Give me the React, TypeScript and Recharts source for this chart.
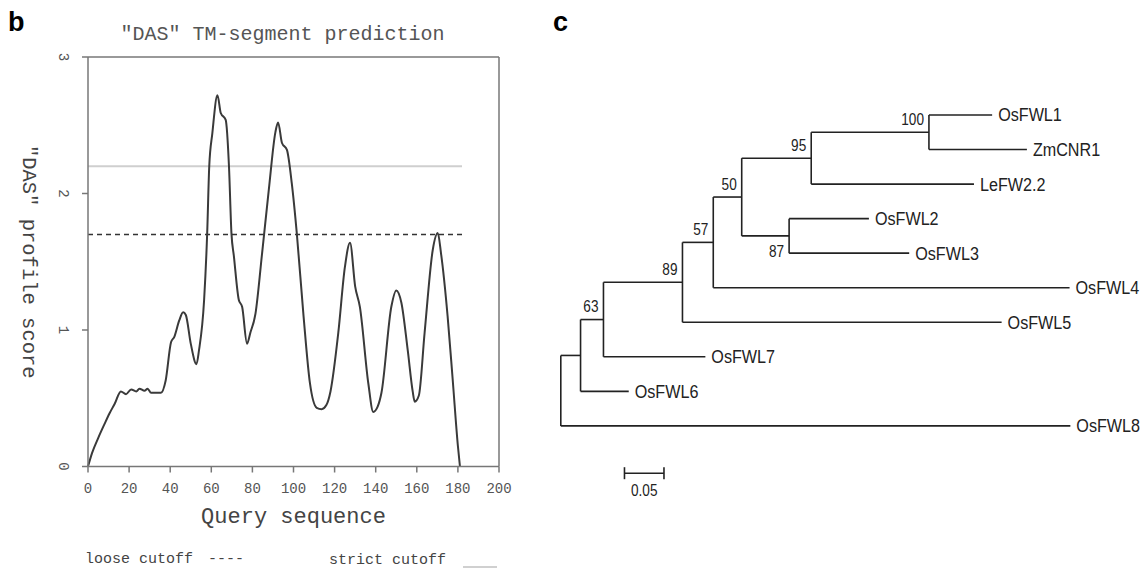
import { ComposedChart, Line, LineChart, ReferenceLine, Scatter, XAxis, YAxis } from "recharts"

// panel b: DAS profile
const dasPositions = [
  0, 2, 5, 8, 10.5, 13, 16, 18.5, 21, 23.5, 25, 27.5, 29, 30.7, 35.5, 37.8, 40.4, 42, 44.4, 46.3,
  47.6, 50, 52.8, 54, 56.5, 58, 59, 60.5, 63, 64.6, 67, 68.6, 69.8, 71, 73.4, 75, 77.4, 79, 81.5,
  84.7, 88, 91.2, 92.5, 94.4, 96.8, 99.2, 101.6, 104.9, 108, 111.3, 113.7, 116, 118, 121.8, 125,
  127.5, 130, 132.3, 136.4, 138.8, 141, 142.8, 147.6, 150, 152.5, 155.6, 158, 159, 161, 163.8,
  167.8, 170.2, 171.8, 175, 177.5, 180, 181,
]
const dasScores = [
  0, 0.1, 0.21, 0.31, 0.39, 0.46, 0.55, 0.53, 0.565, 0.55, 0.57, 0.555, 0.57, 0.54, 0.54, 0.63,
  0.91, 0.95, 1.07, 1.13, 1.11, 0.9, 0.75, 0.85, 1.22, 1.71, 2.2, 2.44, 2.72, 2.59, 2.54, 2.2, 1.71,
  1.54, 1.22, 1.17, 0.9, 0.98, 1.12, 1.56, 2.03, 2.45, 2.52, 2.37, 2.32, 2.07, 1.71, 1.1, 0.61,
  0.43, 0.42, 0.45, 0.55, 0.98, 1.46, 1.64, 1.32, 1.17, 0.61, 0.4, 0.44, 0.54, 1.17, 1.29, 1.2,
  0.85, 0.55, 0.475, 0.52, 0.98, 1.59, 1.71, 1.56, 1.1, 0.63, 0.15, 0,
]
const xTicks = [0, 20, 40, 60, 80, 100, 120, 140, 160, 180, 200]
const yTicks = [0, 1, 2, 3]
const looseCutoff = 1.7
const strictCutoff = 2.2
const cutoffEnd = 182

// panel c: tree
const leafOrder = ["OsFWL1", "ZmCNR1", "LeFW2.2", "OsFWL2", "OsFWL3", "OsFWL4", "OsFWL5", "OsFWL7", "OsFWL6", "OsFWL8"]
const edgeParent = ["root", "root", "nA", "nA", "n63", "n63", "n89", "n89", "n57", "n57", "n50", "n50", "n95", "n95", "n100", "n100", "n87", "n87"]
const edgeChild = ["nA", "OsFWL8", "n63", "OsFWL6", "OsFWL7", "n89", "n57", "OsFWL5", "n50", "OsFWL4", "n95", "n87", "n100", "LeFW2.2", "OsFWL1", "ZmCNR1", "OsFWL2", "OsFWL3"]
const edgeLength = [0.025, 0.645, 0.029, 0.061, 0.129, 0.1, 0.039, 0.404, 0.036, 0.451, 0.088, 0.06, 0.149, 0.206, 0.08, 0.124, 0.101, 0.152]
const supportNode = ["n100", "n95", "n50", "n87", "n57", "n89", "n63"]
const supportValue = [100, 95, 50, 87, 57, 89, 63]
const scaleBarLength = 0.05

const MONO = "'Courier New', 'Liberation Mono', monospace"
const SANS = "'Liberation Sans', Arial, sans-serif"
const NARROW = 0.85 // the tree labels use a condensed face

const dasData = dasPositions.map((pos, i) => ({ pos, score: dasScores[i] }))

// lay the tree out: x = distance from root, y = leaf row
const childrenOf: Record<string, string[]> = {}
const lengthOf: Record<string, number> = {}
edgeParent.forEach((p, i) => {
  ;(childrenOf[p] ||= []).push(edgeChild[i])
  lengthOf[edgeChild[i]] = edgeLength[i]
})
const nodeX: Record<string, number> = { root: 0 }
const nodeY: Record<string, number> = {}
function place(n: string) {
  const kids = childrenOf[n] || []
  kids.forEach((k) => {
    nodeX[k] = nodeX[n] + lengthOf[k]
    place(k)
  })
  if (kids.length === 0) nodeY[n] = leafOrder.indexOf(n)
  else {
    const ys = kids.map((k) => nodeY[k])
    nodeY[n] = (Math.min(...ys) + Math.max(...ys)) / 2
  }
}
place("root")

const segments: { x: number; y: number }[][] = []
edgeChild.forEach((c, i) => {
  const p = edgeParent[i]
  segments.push([{ x: nodeX[p], y: nodeY[c] }, { x: nodeX[c], y: nodeY[c] }])
})
Object.keys(childrenOf).forEach((n) => {
  const ys = childrenOf[n].map((k) => nodeY[k])
  segments.push([{ x: nodeX[n], y: Math.min(...ys) }, { x: nodeX[n], y: Math.max(...ys) }])
})
const leafPoints = leafOrder.map((name) => ({ name, x: nodeX[name], y: nodeY[name] }))
const supportPoints = supportNode.map((n, i) => ({ node: n, value: supportValue[i], x: nodeX[n], y: nodeY[n] }))

const barStartX = 0.0806
const barY = 10.37
const scaleBarEnds = [{ x: barStartX, y: barY }, { x: barStartX + scaleBarLength, y: barY }]
const scaleBarMid = [{ x: barStartX + scaleBarLength / 2, y: barY, label: String(scaleBarLength) }]

const NarrowText = ({ x, y, anchor, size, children }: any) => (
  <text
    transform={`translate(${x}, ${y}) scale(${NARROW}, 1)`}
    textAnchor={anchor}
    dominantBaseline="central"
    fontFamily={SANS}
    fontSize={size}
    fill="#222"
  >
    {children}
  </text>
)

const XTick = ({ x, y, payload }: any) => (
  <text x={x} y={y + 14.5} textAnchor="middle" dominantBaseline="central" fontFamily={MONO} fontSize={14} fill="#555">
    {payload.value}
  </text>
)

const YTick = ({ x, y, payload }: any) => (
  <text
    x={x - 17}
    y={y}
    textAnchor="middle"
    dominantBaseline="central"
    transform={`rotate(90, ${x - 17}, ${y})`}
    fontFamily={MONO}
    fontSize={14}
    fill="#555"
  >
    {payload.value}
  </text>
)

function DasChart() {
  return (
    <LineChart width={520} height={571} data={dasData} margin={{ top: 57, right: 21, bottom: 74.5, left: 28 }}>
      <XAxis
        dataKey="pos"
        type="number"
        domain={[0, 200]}
        ticks={xTicks}
        tick={<XTick />}
        tickSize={6}
        height={30}
        axisLine={{ stroke: "#777", strokeWidth: 1.5 }}
        tickLine={{ stroke: "#777", strokeWidth: 1.5 }}
        label={{
          content: ({ viewBox }: any) => (
            <text x={viewBox.x + viewBox.width / 2} y={viewBox.y + 56} textAnchor="middle" fontFamily={MONO} fontSize={22} fill="#444">
              Query sequence
            </text>
          ),
        }}
      />
      <YAxis
        type="number"
        domain={[0, 3]}
        ticks={yTicks}
        tick={<YTick />}
        tickSize={6}
        width={60}
        axisLine={{ stroke: "#777", strokeWidth: 1.5 }}
        tickLine={{ stroke: "#777", strokeWidth: 1.5 }}
        label={{
          content: ({ viewBox }: any) => {
            const cx = viewBox.x
            const cy = viewBox.y + viewBox.height / 2
            return (
              <text
                x={cx}
                y={cy}
                textAnchor="middle"
                dominantBaseline="central"
                transform={`rotate(90, ${cx}, ${cy})`}
                fontFamily={MONO}
                fontSize={20.5}
                fill="#444"
              >
                "DAS" profile score
              </text>
            )
          },
        }}
      />
      <ReferenceLine y={3} stroke="#777" strokeWidth={1.5} />
      <ReferenceLine x={200} stroke="#777" strokeWidth={1.5} />
      <ReferenceLine
        segment={[{ x: 0, y: strictCutoff }, { x: cutoffEnd, y: strictCutoff }]}
        stroke="#cfcfcf"
        strokeWidth={2}
      />
      <ReferenceLine
        segment={[{ x: 0, y: looseCutoff }, { x: cutoffEnd, y: looseCutoff }]}
        stroke="#333"
        strokeWidth={1.5}
        strokeDasharray="5 4"
      />
      <Line dataKey="score" type="monotone" stroke="#3a3a3a" strokeWidth={2} dot={false} isAnimationActive={false} />
    </LineChart>
  )
}

function TreeChart() {
  return (
    <ComposedChart width={628} height={571} margin={{ top: 115, right: 34.2, bottom: 41.5, left: 40.8 }}>
      <XAxis dataKey="x" type="number" domain={[0, 0.7]} hide />
      <YAxis dataKey="y" type="number" domain={[0, 12]} reversed hide />
      {segments.map((seg, i) => (
        <Line
          key={i}
          data={seg}
          dataKey="y"
          type="linear"
          stroke="#222"
          strokeWidth={1.6}
          dot={false}
          isAnimationActive={false}
        />
      ))}
      <Line data={scaleBarEnds} dataKey="y" stroke="#222" strokeWidth={1.6} dot={false} isAnimationActive={false} />
      <Scatter
        data={scaleBarEnds}
        isAnimationActive={false}
        shape={(p: any) => <line x1={p.cx} x2={p.cx} y1={p.cy - 6} y2={p.cy + 6} stroke="#222" strokeWidth={1.6} />}
      />
      <Scatter
        data={scaleBarMid}
        isAnimationActive={false}
        shape={(p: any) => (
          <NarrowText x={p.cx} y={p.cy + 17.5} anchor="middle" size={16}>
            {p.payload.label}
          </NarrowText>
        )}
      />
      <Scatter
        data={leafPoints}
        isAnimationActive={false}
        shape={(p: any) => (
          <NarrowText x={p.cx + 6} y={p.cy} anchor="start" size={19}>
            {p.payload.name}
          </NarrowText>
        )}
      />
      <Scatter
        data={supportPoints}
        isAnimationActive={false}
        shape={(p: any) => (
          <NarrowText x={p.cx - 5} y={p.payload.node === "n87" ? p.cy + 16 : p.cy - 12.5} anchor="end" size={16}>
            {p.payload.value}
          </NarrowText>
        )}
      />
    </ComposedChart>
  )
}

export default function App() {
  return (
    <div style={{ position: "absolute", left: 0, top: 0, width: 1148, height: 571, background: "#fff", overflow: "hidden" }}>
      <div style={{ position: "absolute", left: 8, top: 9, fontFamily: "'Liberation Sans', Arial, sans-serif", fontWeight: 700, fontSize: 27, lineHeight: "27px" }}>
        b
      </div>
      <div style={{ position: "absolute", left: 553, top: 9, fontFamily: "'Liberation Sans', Arial, sans-serif", fontWeight: 700, fontSize: 27, lineHeight: "27px" }}>
        c
      </div>
      <div style={{ position: "absolute", left: 0, top: 25, width: 565, textAlign: "center", fontFamily: MONO, fontSize: 20, lineHeight: "20px", color: "#555" }}>
        "DAS" TM-segment prediction
      </div>
      <div style={{ position: "absolute", left: 0, top: 0 }}>
        <DasChart />
      </div>
      <div style={{ position: "absolute", left: 85, top: 552, fontFamily: MONO, fontSize: 15, lineHeight: "15px", color: "#444", whiteSpace: "pre" }}>
        loose cutoff
      </div>
      <div style={{ position: "absolute", left: 208, top: 552, fontFamily: MONO, fontSize: 15, lineHeight: "15px", color: "#444", whiteSpace: "pre" }}>
        ----
      </div>
      <div style={{ position: "absolute", left: 329, top: 553, fontFamily: MONO, fontSize: 15, lineHeight: "15px", color: "#444", whiteSpace: "pre" }}>
        strict cutoff
      </div>
      <div style={{ position: "absolute", left: 463, top: 566, width: 34, height: 2, background: "#d0d0d0" }} />
      <div style={{ position: "absolute", left: 520, top: 0 }}>
        <TreeChart />
      </div>
    </div>
  )
}
